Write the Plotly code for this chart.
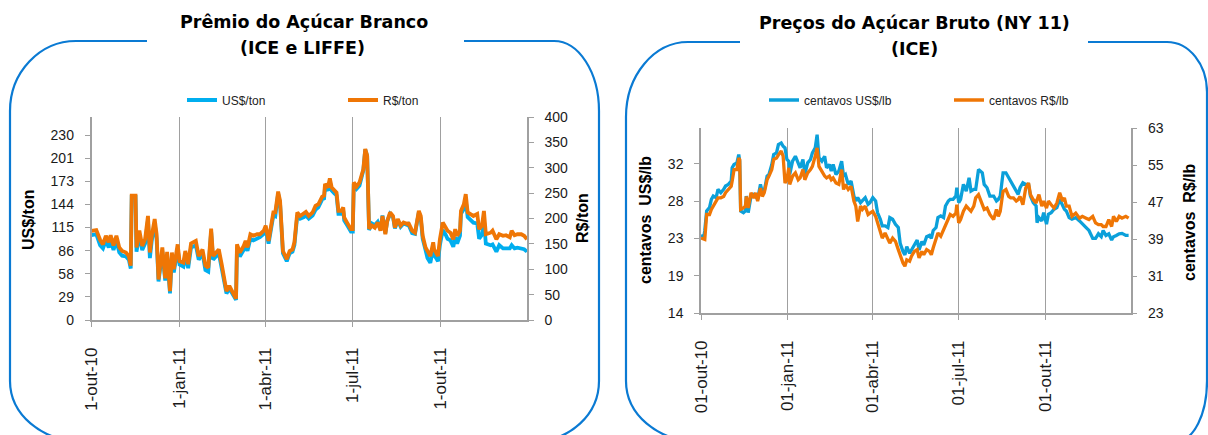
import plotly.graph_objects as go
import pandas as pd

W, H = 1208, 435

left_days = [0, 5, 9, 12, 15, 18, 20, 23, 26, 29, 32, 36, 39, 41, 42, 46, 47, 50, 53, 56,
             59, 61, 63, 66, 68, 70, 74, 77, 79, 82, 84, 86, 90, 92, 96, 98, 101, 104, 109, 112,
             116, 119, 122, 125, 127, 131, 133, 136, 139, 141, 144, 147, 151, 152, 155, 159, 161, 163, 166, 169,
             173, 176, 180, 182, 185, 190, 192, 195, 197, 200, 204, 207, 210, 212, 215, 218, 222, 224, 227, 231,
             234, 237, 241, 243, 244, 247, 249, 251, 254, 256, 258, 261, 263, 264, 267, 271, 273, 274, 277, 280,
             284, 286, 288, 290, 293, 296, 299, 302, 304, 307, 309, 312, 315, 317, 320, 323, 326, 330, 331, 335,
             338, 342, 344, 346, 349, 351, 354, 357, 358, 362, 364, 367, 370, 372, 375, 378, 380, 382, 385, 386,
             389, 391, 393, 396, 399, 403, 405, 408, 410, 412, 417, 419, 423, 426, 430, 433, 437, 439, 442, 445,
             449, 452, 455]
premio_usd = [105.5, 106.7, 93, 89, 98.6, 90, 99, 87, 98.6, 84, 80, 79, 75, 64, 153, 153, 85, 105.5, 87, 95,
              124, 77, 99, 120, 101, 48, 85, 49, 80, 33, 79, 59, 89, 69, 66.5, 81, 64.5, 90, 93, 75,
              83, 62, 60, 110, 75, 81, 83, 64.5, 43, 33, 39, 33, 25, 90, 79, 87, 93, 86, 101, 99,
              101, 103, 107, 113, 95, 130, 129, 157, 145, 83, 73, 83, 85, 93, 130, 126, 128, 130, 126, 130,
              137, 140, 150, 151, 165, 161, 172, 161, 157, 155, 132, 132, 136, 124, 118, 110, 110, 169, 163, 167,
              186, 212, 204, 112, 120, 118, 122, 112, 130, 108, 123, 132, 128, 114, 124, 116, 120, 118, 119, 108,
              107, 134, 126, 101, 87, 77, 71, 89, 81, 73, 93, 112, 106, 101, 99, 91, 103, 95, 105, 132,
              138, 149, 128, 124, 121, 120, 101, 106, 124, 95, 93, 94, 85, 93, 89, 89, 89, 93, 89, 90,
              89, 88, 85]
premio_brl = [175.7, 177, 158, 149, 166, 153, 167, 147, 166, 143, 136, 133, 126, 107, 245, 245, 143, 176, 146, 159,
              205, 133, 166, 199, 169, 80, 143, 82, 134, 57, 133, 100, 149, 116, 113, 136, 110, 151, 156, 126,
              139, 107, 103, 180, 126, 136, 139, 110, 74, 57, 67, 57, 42, 149, 133, 146, 156, 143, 169, 166,
              169, 169, 176, 186, 156, 212, 212, 253, 235, 136, 120, 136, 139, 153, 212, 205, 209, 213, 205, 212,
              225, 228, 243, 245, 268, 261, 279, 261, 255, 251, 215, 215, 222, 202, 192, 179, 179, 271, 263, 271,
              297, 337, 324, 180, 186, 182, 192, 176, 205, 169, 195, 212, 205, 182, 199, 186, 192, 189, 192, 176,
              172, 215, 205, 166, 143, 136, 126, 153, 139, 126, 159, 192, 182, 176, 172, 159, 179, 166, 176, 215,
              228, 248, 212, 209, 205, 209, 179, 186, 215, 169, 172, 176, 159, 169, 166, 167, 163, 176, 167, 169,
              169, 166, 159]

right_days = [0, 3, 4, 6, 9, 11, 13, 16, 18, 21, 24, 26, 29, 32, 33, 35, 38, 40, 41, 42,
              45, 47, 48, 50, 53, 56, 58, 60, 63, 65, 67, 70, 72, 75, 77, 80, 82, 85, 87, 89,
              91, 93, 94, 97, 100, 103, 105, 108, 110, 113, 116, 118, 121, 123, 125, 128, 131, 133, 136, 138,
              140, 143, 146, 149, 151, 153, 156, 159, 162, 164, 166, 169, 171, 174, 177, 179, 182, 185, 187, 190,
              192, 195, 198, 200, 203, 206, 209, 211, 214, 216, 218, 221, 223, 226, 229, 231, 234, 236, 239, 242,
              244, 246, 249, 251, 254, 257, 259, 262, 264, 267, 270, 271, 273, 275, 278, 281, 284, 286, 289, 291,
              294, 298, 300, 303, 306, 310, 313, 315, 317, 320, 323, 326, 328, 331, 334, 336, 338, 341, 344, 347,
              349, 352, 355, 356, 358, 361, 363, 366, 368, 371, 374, 377, 380, 383, 385, 387, 390, 393, 397, 401,
              404, 408, 411, 415, 418, 421, 424, 426, 429, 432, 435, 437, 440, 443, 446, 450, 453]
bruto_usd = [23.35, 23.2, 23.95, 26.3, 26.7, 27.7, 28.1, 27.9, 28.9, 28.5, 28.9, 29.3, 29.5, 29.9, 31.5, 31.9, 32.1, 33.1, 32.3, 26.3,
             26.1, 26.3, 28.1, 26.1, 28.1, 28.3, 28.1, 27.7, 29.5, 28.5, 28.7, 30.5, 30.7, 31.9, 33.1, 33.3, 34.3, 34.5, 34.1, 33.9,
             32.5, 32.3, 30.7, 32.3, 32.9, 31.9, 31.5, 32.5, 30.7, 32.1, 32.5, 33.3, 33.9, 35.5, 32.7, 32.3, 32.9, 31.5, 31.9, 31.1,
             31.9, 30.7, 31.1, 32.3, 30.5, 30.7, 29.5, 29.9, 28.1, 27.5, 27.9, 27.3, 27.5, 27.9, 27.1, 27.3, 27.9, 27.5, 26.1, 25.3,
             24.5, 24.5, 24.3, 25.5, 25.3, 24.7, 24.3, 22.4, 21.4, 21.0, 22.0, 21.2, 21.6, 22.2, 22.8, 21.6, 22.6, 22.2, 23.2, 23.35,
             23.0, 23.95, 24.3, 25.5, 25.7, 25.5, 26.9, 27.5, 27.7, 27.7, 28.1, 29.1, 27.3, 27.7, 29.5, 28.7, 30.3, 28.7, 28.9, 28.9,
             31.3, 30.9, 29.5, 29.1, 28.1, 28.1, 27.5, 27.7, 28.1, 30.9, 30.9, 30.3, 29.9, 29.3, 28.7, 28.3, 29.1, 29.7, 29.5, 29.5,
             28.1, 27.3, 26.9, 24.9, 25.5, 25.1, 26.1, 24.7, 25.9, 26.1, 26.5, 26.7, 27.7, 26.9, 26.5, 26.3, 25.5, 25.3, 25.5, 25.1,
             24.7, 24.3, 23.95, 23.0, 23.0, 23.55, 23.2, 23.95, 23.35, 23.55, 22.8, 23.2, 23.35, 23.55, 23.6, 23.35, 23.35]
bruto_brl = [39.2, 38.9, 38.9, 44.3, 44.3, 45.4, 46.1, 47.2, 47.9, 47.9, 48.2, 49.0, 49.7, 50.4, 51.5, 54.0, 54.0, 56.5, 56.2, 45.4,
             45.7, 46.1, 48.2, 45.7, 49.0, 47.9, 49.0, 47.2, 50.0, 48.2, 49.0, 51.8, 52.6, 54.0, 56.2, 56.5, 57.2, 58.0, 56.9, 51.1,
             51.8, 54.4, 50.8, 52.6, 53.3, 51.8, 52.2, 54.0, 51.8, 53.3, 54.0, 54.7, 56.9, 58.7, 54.7, 53.6, 52.6, 52.2, 52.6, 51.8,
             52.2, 51.1, 50.8, 54.0, 49.7, 50.8, 49.7, 50.4, 47.2, 46.1, 42.8, 46.1, 45.4, 46.1, 44.3, 44.6, 45.0, 43.9, 42.5, 41.0,
             39.2, 40.3, 38.9, 38.1, 39.2, 38.5, 36.7, 35.3, 33.8, 33.1, 34.5, 34.2, 35.3, 36.3, 36.7, 34.9, 36.3, 35.6, 36.7, 36.3,
             35.6, 37.1, 38.9, 40.3, 39.6, 41.0, 42.1, 43.5, 44.3, 43.9, 44.6, 46.4, 42.5, 43.2, 45.0, 46.1, 45.4, 45.0, 46.1, 47.9,
             48.6, 46.1, 45.4, 45.7, 44.3, 43.2, 45.4, 43.9, 45.0, 49.3, 49.7, 48.2, 47.9, 47.9, 47.2, 47.5, 48.2, 46.4, 50.0, 51.1,
             48.6, 47.5, 46.8, 47.5, 48.6, 46.1, 47.2, 45.7, 47.2, 46.4, 45.7, 46.8, 49.0, 47.2, 47.9, 46.1, 46.1, 43.9, 44.6, 43.5,
             43.9, 43.5, 43.2, 43.9, 42.5, 42.1, 42.1, 41.7, 41.7, 43.2, 41.7, 43.9, 42.8, 43.9, 43.5, 43.9, 43.5]

base = pd.Timestamp("2010-10-01")
left_dates = [base + pd.Timedelta(days=d) for d in left_days]
right_dates = [base + pd.Timedelta(days=d) for d in right_days]

tick_dates = ["2010-10-01", "2011-01-01", "2011-04-01", "2011-07-01", "2011-10-01"]
left_ticktext = ["1-out-10", "1-jan-11", "1-abr-11", "1-jul-11", "1-out-11"]
right_ticktext = ["01-out-10", "01-jan-11", "01-abr-11", "01-jul-11", "01-out-11"]

left_y_ticks = [0, 28.75, 57.5, 86.25, 115, 143.75, 172.5, 201.25, 230]
left_y_text = ["0", "29", "58", "86", "115", "144", "173", "201", "230"]
right_y_ticks = [14, 18.5, 23, 27.5, 32]
right_y_text = ["14", "19", "23", "28", "32"]

def px(x):
    return x / W

def py(y):
    return 1 - y / H

FONT = "Liberation Sans, Arial, sans-serif"
TFONT = "DejaVu Sans, Verdana, sans-serif"
BLUE_L = "#00AEEF"
BLUE_R = "#0BA0DA"
ORANGE = "#EF7605"
GRID = "#A0A0A0"
BORDER = "#0A7AD3"

fig = go.Figure()
fig.add_trace(go.Scatter(x=left_dates, y=premio_usd, name="US$/ton", mode="lines",
                         line=dict(color=BLUE_L, width=3.8), xaxis="x", yaxis="y", legend="legend"))
fig.add_trace(go.Scatter(x=left_dates, y=premio_brl, name="R$/ton", mode="lines",
                         line=dict(color=ORANGE, width=3.8), xaxis="x", yaxis="y2", legend="legend2"))
fig.add_trace(go.Scatter(x=right_dates, y=bruto_usd, name="centavos US$/lb", mode="lines",
                         line=dict(color=BLUE_R, width=3.3), xaxis="x2", yaxis="y3", legend="legend3"))
fig.add_trace(go.Scatter(x=right_dates, y=bruto_brl, name="centavos R$/lb", mode="lines",
                         line=dict(color=ORANGE, width=3.3), xaxis="x2", yaxis="y4", legend="legend4"))

xcommon = dict(type="date", tickvals=tick_dates, showgrid=True, gridcolor=GRID, gridwidth=1,
               showline=True, linecolor=GRID, linewidth=1.5, ticks="outside", ticklen=5,
               tickcolor=GRID, tickangle=-90, tickfont=dict(family=FONT, size=17, color="#1a1a1a"),
               ticklabelstandoff=14, zeroline=False, automargin=False)
ycommon = dict(showgrid=False, zeroline=False, showline=True, linecolor=GRID, linewidth=1.5,
               ticks="outside", ticklen=5, tickcolor=GRID, ticklabelstandoff=8, automargin=False,
               tickfont=dict(family=FONT, size=14, color="#1a1a1a"))

fig.update_layout(
    width=W, height=H, margin=dict(l=0, r=0, t=0, b=0, pad=0, autoexpand=False),
    paper_bgcolor="white", plot_bgcolor="white",
    xaxis=dict(domain=[px(91.5), px(527)], anchor="y", range=["2010-10-01", "2011-12-30"],
               ticktext=left_ticktext, **xcommon),
    yaxis=dict(domain=[py(320), py(117)], anchor="x", range=[0, 252.4],
               tickvals=left_y_ticks, ticktext=left_y_text, **ycommon),
    yaxis2=dict(overlaying="y", side="right", anchor="x", range=[0, 400], tick0=0, dtick=50, **ycommon),
    xaxis2=dict(domain=[px(701), px(1130.5)], anchor="y3", range=["2010-10-01", "2011-12-30"],
                ticktext=right_ticktext, **xcommon),
    yaxis3=dict(domain=[py(313), py(128)], anchor="x2", range=[14, 36.3],
                tickvals=right_y_ticks, ticktext=right_y_text, **ycommon),
    yaxis4=dict(overlaying="y3", side="right", anchor="x2", range=[23, 63], tick0=23, dtick=8, **ycommon),
    showlegend=True,
)

leg = dict(xanchor="left", yanchor="middle", bgcolor="rgba(0,0,0,0)", orientation="h",
           font=dict(family=FONT, size=12, color="#222"), itemwidth=30, borderwidth=0)
fig.update_layout(
    legend=dict(x=px(182), y=py(100), **leg),
    legend2=dict(x=px(343), y=py(100), **leg),
    legend3=dict(x=px(764), y=py(100), **leg),
    legend4=dict(x=px(949), y=py(100), **leg),
)

def frame_path(x0, x1, top, bot, gl, gr, tl, tr, br, bl):
    k = 0.5523
    def P(x, y):
        return f"{px(x):.5f},{py(y):.5f}"
    s = [f"M {P(gr, top)}", f"L {P(x1 - tr[0], top)}",
         f"C {P(x1 - tr[0] + k * tr[0], top)} {P(x1, top + tr[1] - k * tr[1])} {P(x1, top + tr[1])}",
         f"L {P(x1, bot - br[1])}",
         f"C {P(x1, bot - br[1] + k * br[1])} {P(x1 - br[0] + k * br[0], bot)} {P(x1 - br[0], bot)}",
         f"L {P(x0 + bl[0], bot)}",
         f"C {P(x0 + bl[0] - k * bl[0], bot)} {P(x0, bot - bl[1] + k * bl[1])} {P(x0, bot - bl[1])}",
         f"L {P(x0, top + tl[1])}",
         f"C {P(x0, top + tl[1] - k * tl[1])} {P(x0 + tl[0] - k * tl[0], top)} {P(x0 + tl[0], top)}",
         f"L {P(gl, top)}"]
    return " ".join(s)

shapes = [
    dict(type="path", xref="paper", yref="paper",
         path=frame_path(10, 599, 41, 441, 147, 464, (66, 70), (45, 70), (64, 60), (70, 60)),
         line=dict(color=BORDER, width=2.2)),
    dict(type="path", xref="paper", yref="paper",
         path=frame_path(626, 1207, 42, 441, 740, 1088, (62, 75), (40, 50), (30, 60), (70, 60)),
         line=dict(color=BORDER, width=2.2)),
]
fig.update_layout(shapes=shapes)

ann = []
def add_text(text, x, y, size, bold=True, angle=0, family=TFONT):
    ann.append(dict(text=f"<b>{text}</b>" if bold else text, x=px(x), y=py(y), xref="paper", yref="paper",
                    showarrow=False, xanchor="center", yanchor="middle", textangle=angle,
                    font=dict(family=family, size=size, color="#000")))

add_text("Prêmio do Açúcar Branco", 304, 22, 17.5)
add_text("(ICE e LIFFE)", 302, 48, 17.5)
add_text("Preços do Açúcar Bruto (NY 11)", 914, 23, 17.5)
add_text("(ICE)", 914, 49, 17.5)

add_text("US$/ton", 28, 220, 16, angle=-90, family=FONT)
add_text("R$/ton", 583, 218, 16, angle=-90, family=FONT)
add_text("centavos  US$/lb", 645, 220, 16, angle=-90, family=FONT)
add_text("centavos  R$/lb", 1189, 222, 16, angle=-90, family=FONT)
fig.update_layout(annotations=ann)

fig.write_html("out.html")
